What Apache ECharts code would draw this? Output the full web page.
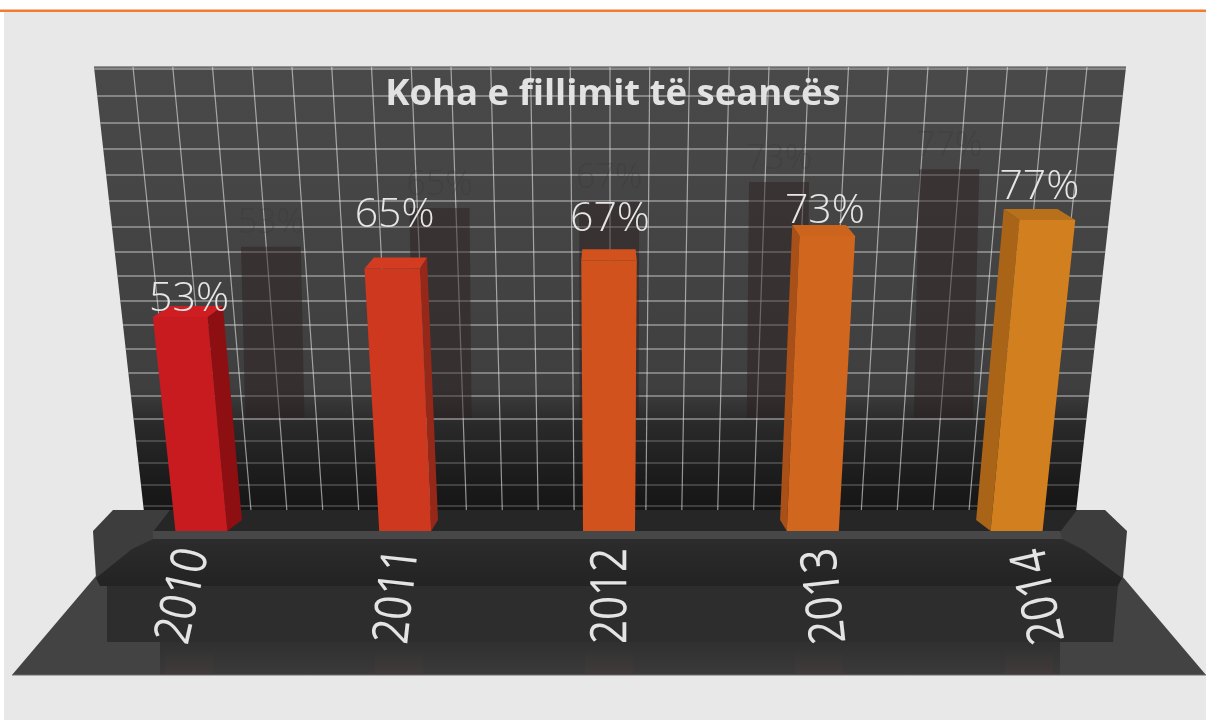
<!DOCTYPE html>
<html>
<head>
<meta charset="utf-8">
<style>html,body{margin:0;padding:0;background:#fff}#c{width:1206px;height:720px;filter:blur(0.6px)}</style>
<script src="https://cdn.jsdelivr.net/npm/echarts@6/dist/echarts.min.js"></script>
</head>
<body>
<div id="c"></div>
<script>
var titleText = 'Koha e fillimit të seancës';
var years = ['2010', '2011', '2012', '2013', '2014'];
var shares = [53, 65, 67, 73, 77];

var barColors = ['#c81b20', '#cd381f', '#d1521d', '#d1661f', '#d27f1f'];
var sideColors = ['#8e0f12', '#96281a', '#a63f18', '#a85018', '#a96418'];
var topColors = ['#cf1e22', '#d33c20', '#d1521d', '#cc641e', '#b9701b'];
var labelNudge = [[10, 10], [3, -26], [1, -13], [-3, 3], [-9, -5]];
var wallRows = [69, 96, 123, 149, 175, 201, 227, 252, 276, 301, 325, 349, 373, 396, 419, 441, 463, 485, 506];
var wallCols = [];
for (var c = 0; c < 25; c++) wallCols.push(133 + c * 39.75);

var CX = 610, VP = 4650, FRONT_Y = 531, BACK_Y = 520, DEPTH = 0.038;
function lean(x, y, fromY) { return CX + (x - CX) * (VP - y) / (VP - fromY); }
function back(x) { return CX + (x - CX) * (1 - DEPTH); }
function grad(stops) {
  return new echarts.graphic.LinearGradient(0, 0, 0, 1, stops.map(function (s) { return { offset: s[0], color: s[1] }; }));
}
function poly(points, fill, z) {
  return { type: 'polygon', silent: true, z: z, shape: { points: points }, style: { fill: fill } };
}
function rect(x, y, w, h, fill, z) {
  return { type: 'rect', silent: true, z: z, shape: { x: x, y: y, width: w, height: h }, style: { fill: fill } };
}

var deco = [
  rect(4, 11, 1202, 709, '#e8e8e8', 0),
  rect(0, 9.5, 1206, 2.5, '#ed7d31', 0),
  poly([[94, 67], [1126, 67], [1076, 512], [144, 512]],
    grad([[0, '#494949'], [0.72, '#3f3f3f'], [0.8, '#2a2a2a'], [0.92, '#1c1c1c'], [1, '#151515']]), 0),
  { type: 'polyline', silent: true, z: 0, shape: { points: [[94, 67], [1126, 67]] }, style: { stroke: '#777', lineWidth: 1.5, fill: null } }
];
wallRows.forEach(function (y) {
  deco.push({ type: 'line', silent: true, z: 0,
    shape: { x1: lean(94, y, 67), y1: y, x2: lean(1126, y, 67), y2: y },
    style: { stroke: 'rgba(205,205,205,' + (y > 420 ? 0.3 : 0.62) + ')', lineWidth: 1.6 } });
});
wallCols.forEach(function (x) {
  deco.push({ type: 'line', silent: true, z: 0,
    shape: { x1: x, y1: 67, x2: lean(x, 510, 67), y2: 510 },
    style: { stroke: 'rgba(225,225,225,0.62)', lineWidth: 1.2 } });
});
deco = deco.concat([
  poly([[96, 576], [1122, 576], [1206, 675], [12, 675]], '#434343', 1),
  rect(160, 642, 900, 33, grad([[0, '#303030'], [1, '#3a3a3a']]), 1),
  poly([[107, 585], [1118, 585], [1113, 642], [107, 642]], '#2d2d2d', 1),
  poly([[113, 510], [1105, 510], [1127, 531], [1123, 578], [96, 578], [93, 531]], '#3d3d3d', 1),
  poly([[170, 510], [1077, 510], [1060, 532], [153, 532]], '#262626', 1),
  poly([[153, 539], [1062, 539], [1084, 550], [1122, 578], [1118, 586], [100, 586], [96, 578], [132, 549]],
    grad([[0, '#2c2c2c'], [0.75, '#252525'], [1, '#232323']]), 1),
  poly([[153, 531], [1060, 531], [1062, 539], [153, 539]], '#474747', 1),
  { type: 'line', silent: true, z: 1, shape: { x1: 12, y1: 675, x2: 1206, y2: 675 }, style: { stroke: '#6a6a6a', lineWidth: 1 } }
]);

function renderGhost(params, api) {
  var i = api.value(0), p = api.coord([i, api.value(1)]), base = api.coord([i, 0]);
  var w = api.size([1, 0])[0] * 0.29;
  var x = CX + (base[0] - CX) * 0.82;
  var baseY = 418, topY = baseY - (base[1] - p[1]) * 0.8;
  function G(px, y) { return px + (lean(px, y, baseY) - px) * 0.3; }
  var pts = [
    [G(x - w / 2, baseY), baseY], [G(x + w / 2, baseY), baseY],
    [G(x + w / 2, topY), topY], [G(x - w / 2, topY), topY]
  ];
  var glow = CX + (base[0] - CX) * 1.03;
  return { type: 'group', children: [
    { type: 'polygon', shape: { points: pts }, style: { fill: 'rgba(42,28,30,0.45)' } },
    { type: 'text', style: { x: (pts[2][0] + pts[3][0]) / 2, y: topY - 6, text: shares[i] + '%', align: 'center', verticalAlign: 'bottom',
      font: '300 34px "Open Sans", sans-serif', fill: 'rgba(60,52,52,0.28)' } },
    { type: 'rect', shape: { x: glow - 24, y: 648, width: 48, height: 27 },
      style: { fill: grad([[0, 'rgba(110,60,60,0)'], [1, 'rgba(110,60,60,0.16)']]) } }
  ] };
}

function renderBar(params, api) {
  var i = api.value(0), v = api.value(1);
  var p = api.coord([i, v]), base = api.coord([i, 0]);
  var w = api.size([1, 0])[0] * 0.255;
  var xl = base[0] - w / 2, xr = base[0] + w / 2;
  var topBack = p[1], topFront = p[1] + (FRONT_Y - BACK_Y);
  function F(x, y) { return [lean(x, y, FRONT_Y), y]; }
  function B(x, y) { return [lean(back(x), y, BACK_Y), y]; }
  var kids = [];
  var sideX = base[0] < CX ? xr : xl;
  kids.push({ type: 'polygon', shape: { points: [F(sideX, FRONT_Y), B(sideX, BACK_Y), B(sideX, topBack), F(sideX, topFront)] },
    style: { fill: sideColors[i] } });
  kids.push({ type: 'polygon', shape: { points: [F(xl, topFront), F(xr, topFront), B(xr, topBack), B(xl, topBack)] },
    style: { fill: topColors[i] } });
  kids.push({ type: 'polygon', shape: { points: [F(xl, FRONT_Y), F(xr, FRONT_Y), F(xr, topFront), F(xl, topFront)] },
    style: { fill: barColors[i] } });
  kids.push({ type: 'text', style: {
    x: lean(base[0], topBack, FRONT_Y) + labelNudge[i][0], y: topBack + labelNudge[i][1] + 4,
    text: shares[i] + '%', align: 'center', verticalAlign: 'bottom',
    font: '300 41px "Open Sans", sans-serif', fill: '#e6e6e6' } });
  return { type: 'group', children: kids };
}

function renderYear(params, api) {
  var i = api.value(0), base = api.coord([i, 0]);
  var x = CX + 3 + (base[0] - CX) * 1.05;
  var tilt = (base[0] - CX) / 408 * 0.22;
  return { type: 'text', x: x, y: 596, rotation: Math.PI / 2 + tilt, scaleY: 1.2,
    style: { x: 0, y: 0, text: years[i], align: 'center', verticalAlign: 'middle',
      font: '400 42px "Open Sans", sans-serif', fill: '#e4e4e4' } };
}

var chart = echarts.init(document.getElementById('c'), null, { renderer: 'canvas' });
chart.setOption({
  animation: false,
  backgroundColor: '#ffffff',
  title: { text: titleText, left: 608, top: 71, textAlign: 'center',
    textStyle: { color: '#e2e2e2', fontFamily: '"Open Sans", sans-serif', fontWeight: 'bold', fontSize: 36.5 } },
  grid: { left: 99.5, width: 1019, top: 116, height: 404 },
  xAxis: { type: 'category', data: years, show: false },
  yAxis: { type: 'value', min: 0, max: 100, interval: 20, show: false },
  graphic: { elements: deco },
  series: [
    { type: 'custom', z: 2, silent: true, renderItem: renderGhost, data: shares.map(function (s, i) { return [i, s]; }), clip: false },
    { type: 'custom', z: 3, silent: true, renderItem: renderBar, data: shares.map(function (s, i) { return [i, s]; }), clip: false },
    { type: 'custom', z: 4, silent: true, renderItem: renderYear, data: shares.map(function (s, i) { return [i, s]; }), clip: false }
  ]
});
</script>
</body>
</html>
